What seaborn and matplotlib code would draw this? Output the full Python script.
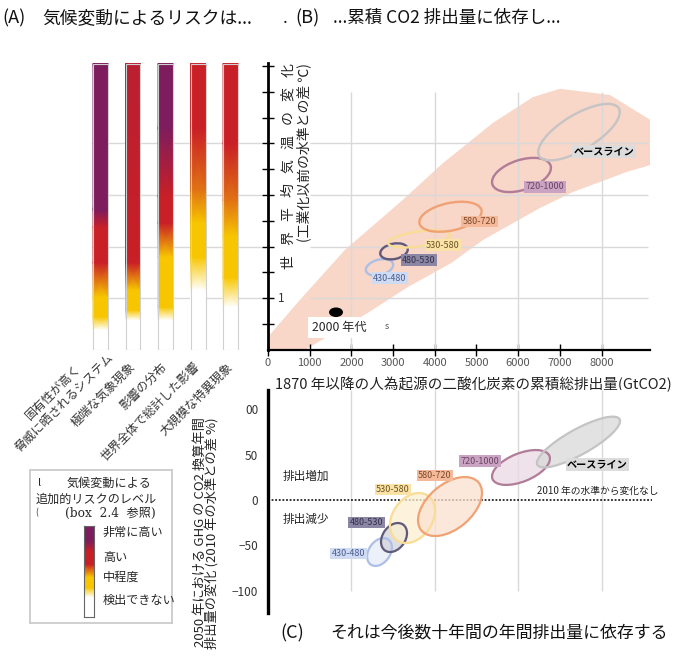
import numpy as np
import matplotlib
matplotlib.use('Agg')
import matplotlib.pyplot as plt
import matplotlib.transforms as mtransforms
from matplotlib.patches import Ellipse, Rectangle
from matplotlib.colors import LinearSegmentedColormap
import seaborn as sns

sns.set_theme(style='white')
plt.rcParams['font.family'] = ['Noto Sans CJK JP', 'DejaVu Sans']

# ---------------- data ----------------
risk_names = ['固有性が高く\n脅威に晒されるシステム', '極端な気象現象', '影響の分布',
              '世界全体で総計した影響', '大規模な特異現象']
# warming (°C) where the risk level changes; level 0=undetectable 1=moderate 2=high 3=very high
risk_temp = [
    [0, 0.39, 0.64, 1.03, 1.69, 2.38, 2.71, 5.55],
    [0, 0.58, 0.77, 1.16, 1.69, 5.55],
    [0, 0.58, 0.83, 1.80, 2.46, 2.97, 4.30, 5.55],
    [0, 1.16, 1.80, 2.46, 3.10, 4.30, 5.55],
    [0, 0.83, 1.40, 2.20, 2.90, 4.00, 5.55],
]
risk_level = [
    [0, 0, 1, 1, 2, 2, 3, 3],
    [0, 0, 1, 1, 2, 2.2],
    [0, 0, 1, 1, 2, 2, 3, 3],
    [0, 0, 1, 1, 1.5, 2, 2],
    [0, 0, 1, 1, 1.5, 2, 2],
]
legend_frac = [0, 0.22, 0.32, 0.44, 0.58, 0.72, 0.84, 1]
legend_level = [0, 0, 1, 1, 2, 2, 3, 3]
level_names = ['非常に高い', '高い', '中程度', '検出できない']

scenarios = ['430-480', '480-530', '530-580', '580-720', '720-1000', 'ベースライン']
# (B) cumulative CO2 (GtCO2) vs warming (°C): centre, half span of long axis, width ratio
b_co2 = [2674, 3022, 3621, 4376, 6079, 7458]
b_temp = [1.60, 1.91, 2.15, 2.58, 3.39, 4.22]
b_co2_span = [324, 328, 743, 744, 698, 954]
b_temp_span = [0.070, 0.056, 0.084, 0.128, 0.183, 0.463]
b_ratio = [0.55, 0.55, 0.24, 0.435, 0.49, 0.38]
# (C) change in annual GHG emissions in 2050 (% vs 2010)
c_co2 = [2674, 3022, 3465, 4365, 6067, 7446]
c_change = [-57.4, -41.4, -19.9, -7.2, 35.9, 64.0]
c_co2_span = [211, 217, 374, 685, 683, 986]
c_change_span = [13.8, 14.3, 24.6, 26.5, 12.7, 25.2]
c_ratio = [0.70, 0.72, 0.73, 0.60, 0.46, 0.27]

obs_co2, obs_temp = 1631, 0.73   # 2000年代

band_co2 = [0, 767, 1847, 3237, 4197, 5396, 6355, 7002, 8201, 9161,
            9161, 8609, 7314, 6523, 5156, 4388, 3357, 2398, 887, 0]
band_temp = [0.25, 0.97, 1.94, 2.91, 3.62, 4.40, 4.90, 5.06, 4.94, 4.46,
             3.58, 3.45, 3.06, 2.75, 2.13, 1.68, 1.22, 0.72, 0.0, 0.0]

co2_ticks = [0, 1000, 2000, 3000, 4000, 5000, 6000, 7000, 8000]
change_ticks = [100, 50, 0, -50, -100]
change_ticklabels = ['00', '50', '0', '−50', '−100']

# ---------------- styles ----------------
edge_c = ['#aebfe6', '#5f5a7a', '#f9dd96', '#f0a274', '#b07c98', '#c4c4c4']
face_c = ['#e6ecf8', '#d2d2da', '#fdf0d2', '#fbe1d0', '#ecd9e4', '#d9d9d9']
tag_bg = ['#cfdaf3', '#8a86a3', '#fbe2a6', '#f5b999', '#c9a3c1', '#dcdcdc']
tag_fg = ['#4b5d8e', '#36324d', '#6b5424', '#7a4a2e', '#6b4566', '#000000']
b_tag_xy = [(2926, 1.39), (3621, 1.74), (4197, 2.03), (5072, 2.49), (6643, 3.16), (8058, 3.85)]
c_tag_xy = [(1930, -59.1), (2362, -24.8), (2998, 11.6), (4005, 27.0), (5084, 43.0), (7902, 39.2)]

risk_cmap = LinearSegmentedColormap.from_list(
    'risk', [(0, '#ffffff'), (1 / 3, '#f7c600'), (2 / 3, '#c91f26'), (1, '#7d1d5d')])
grid_c = '#d9d9d9'

fig = plt.figure(figsize=(6.75, 6.58), dpi=100)
fig.patch.set_facecolor('white')

axA = fig.add_axes([0.1363, 0.46824, 0.2519, 0.43556])
axB = fig.add_axes([0.39704, 0.46824, 0.5714, 0.43556])
axC = fig.add_axes([0.39704, 0.06839, 0.5714, 0.3389])

T_TOP = 5.554
XMAX = 9250


def draw_ellipse(ax, cx, cy, sx, sy, ratio, **kw):
	p0 = ax.transData.transform((cx, cy))
	p1 = ax.transData.transform((cx + sx, cy + sy))
	d = p1 - p0
	a = np.hypot(d[0], d[1])
	ang = np.degrees(np.arctan2(d[1], d[0]))
	tr = fig.dpi_scale_trans + mtransforms.ScaledTranslation(cx, cy, ax.transData)
	ax.add_patch(Ellipse((0, 0), 2 * a / fig.dpi, 2 * a * ratio / fig.dpi,
	                     angle=ang, transform=tr, **kw))


# ---------------- (A) risk bars ----------------
axA.set_xlim(-0.2615, 4.969)
axA.set_ylim(0, T_TOP)
axA.axis('off')
for t in [1, 2, 3, 4]:
	axA.axhline(t, color=grid_c, lw=1, zorder=0)
hw = 0.23
for i, (temps, levels) in enumerate(zip(risk_temp, risk_level)):
	temps = np.asarray(temps)
	X = np.column_stack([np.full(len(temps), i - hw), np.full(len(temps), i + hw)])
	Y = np.column_stack([temps, temps])
	C = np.column_stack([levels, levels])
	axA.pcolormesh(X, Y, C, shading='gouraud', cmap=risk_cmap, vmin=0, vmax=3, zorder=2)
	axA.add_patch(Rectangle((i - hw, 0), 2 * hw, temps[-1], fill=False,
	                        ec='#d0d0d0', lw=0.8, zorder=3))
	if '\n' in risk_names[i]:
		tx, ty = i + 0.17, 0.0
	else:
		tx, ty = i, -0.29
	axA.text(tx, ty, risk_names[i], rotation=45, rotation_mode='anchor', ha='right',
	         va='center', multialignment='center', fontsize=8.7, color='#333333',
	         clip_on=False)

# ---------------- (B) warming vs cumulative CO2 ----------------
axB.set_xlim(0, XMAX)
axB.set_ylim(0, T_TOP)
axB.fill(band_co2, band_temp, color='#f8d6c8', lw=0, zorder=0)
axB.vlines([2000, 4000, 6000, 8000], 0, 5, color=grid_c, lw=1, zorder=1)
axB.hlines([1, 2, 3, 4], 1000, 9110, color=grid_c, lw=1, zorder=1)
for k in range(len(scenarios)):
	draw_ellipse(axB, b_co2[k], b_temp[k], b_co2_span[k], b_temp_span[k], b_ratio[k],
	             fill=False, ec=edge_c[k], lw=1.7, zorder=3)
	bold = 'bold' if k == len(scenarios) - 1 else 'normal'
	axB.text(*b_tag_xy[k], scenarios[k], fontsize=7.3 if bold == 'bold' else 6.5,
	         weight=bold, color=tag_fg[k], ha='center', va='center', zorder=5,
	         bbox=dict(boxstyle='square,pad=0.15', fc=tag_bg[k], ec='none'))
draw_ellipse(axB, obs_co2, obs_temp, 150, 0, 0.65, fc='black', ec='black', zorder=4)
axB.text(1720, 0.43, '2000 年代', fontsize=8.8, ha='center', va='center', zorder=5,
         bbox=dict(boxstyle='square,pad=0.35', fc='white', ec='none'))
axB.text(2854, 0.45, 's', fontsize=6.5, color='#555555', ha='center', va='center')

for s in ['top', 'right']:
	axB.spines[s].set_visible(False)
axB.spines['left'].set_linewidth(2.0)
axB.spines['left'].set_color('black')
axB.spines['bottom'].set_linewidth(1.6)
axB.spines['bottom'].set_color('black')
axB.spines['bottom'].set_bounds(0, 9160)
axB.set_xticks(co2_ticks)
axB.set_xticklabels([str(v) for v in co2_ticks])
axB.set_yticks(np.arange(0.5, 5.51, 0.5))
axB.set_yticklabels([])
axB.tick_params(axis='both', direction='inout', length=8, width=1, color='black',
                bottom=True, left=True)
axB.tick_params(axis='x', labelsize=8, labelcolor='#555555', pad=2)
axB.text(0.035, 1, '1', transform=axB.get_yaxis_transform(), fontsize=8.5,
         color='#333333', ha='center', va='center')
axB.set_xlabel('1870 年以降の人為起源の二酸化炭素の累積総排出量(GtCO2)', fontsize=10.5,
               color='#222222', va='center')
axB.xaxis.set_label_coords(0.533, -0.119)
axB.text(0.0544, 1.0, '世\u2002 界\u2002 平\u2002 均\u2002 気\u2002 温\u2002 の\u2002 変\u2002 化',
         transform=axB.transAxes, rotation=90, ha='center', va='top', fontsize=10,
         color='#222222')
axB.text(0.0933, 1.0, '(工業化以前の水準との差 ℃)', transform=axB.transAxes, rotation=90,
         ha='center', va='top', fontsize=10, color='#222222')

# ---------------- (C) emissions change ----------------
axC.set_xlim(0, XMAX)
axC.set_ylim(-124.7, 121.4)
axC.vlines([2000, 4000, 6000, 8000], -100, 121.4, color=grid_c, lw=1, zorder=0)
axC.hlines(0, 0, 9209, color='#222222', lw=1.3, linestyles=(0, (1, 1)), zorder=2)
for k in range(len(scenarios)):
	draw_ellipse(axC, c_co2[k], c_change[k], c_co2_span[k], c_change_span[k], c_ratio[k],
	             fc=face_c[k], alpha=0.75, ec='none', zorder=3)
	draw_ellipse(axC, c_co2[k], c_change[k], c_co2_span[k], c_change_span[k], c_ratio[k],
	             fill=False, ec=edge_c[k], lw=1.6, zorder=4)
	bold = 'bold' if k == len(scenarios) - 1 else 'normal'
	axC.text(*c_tag_xy[k], scenarios[k], fontsize=7.3 if bold == 'bold' else 6.5,
	         weight=bold, color=tag_fg[k], ha='center', va='center', zorder=5,
	         bbox=dict(boxstyle='square,pad=0.15', fc=tag_bg[k], ec='none'))
axC.text(360, 26.5, '排出増加', fontsize=8.4, color='#222222', va='center')
axC.text(360, -22, '排出減少', fontsize=8.4, color='#222222', va='center')
axC.text(6451, 10.3, '2010 年の水準から変化なし', fontsize=7, color='#222222', va='center')
for s in ['top', 'right', 'bottom']:
	axC.spines[s].set_visible(False)
axC.spines['left'].set_linewidth(2.4)
axC.spines['left'].set_color('black')
axC.set_xticks([])
axC.set_yticks(change_ticks)
axC.set_yticklabels(change_ticklabels)
axC.tick_params(axis='y', length=0, pad=7, labelsize=8.5, labelcolor='#333333')

fig.text(0.296, 0.3663, '2050 年における GHG の CO2 換算年間', rotation=90, ha='center',
         va='top', fontsize=9.5, color='#222222')
fig.text(0.315, 0.3663, '排出量の変化 (2010 年の水準との差 %)', rotation=90, ha='center',
         va='top', fontsize=9.5, color='#222222')

# ---------------- legend box ----------------
axL = fig.add_axes([0.0444, 0.0532, 0.2104, 0.2325])
axL.set_xticks([])
axL.set_yticks([])
for s in axL.spines.values():
	s.set_color('#cccccc')
	s.set_linewidth(1.3)
axL.text(0.556, 0.915, '気候変動による', ha='center', va='center', fontsize=8.7,
         transform=axL.transAxes)
axL.text(0.468, 0.81, '追加的リスクのレベル', ha='center', va='center', fontsize=8.7,
         transform=axL.transAxes)
axL.text(0.563, 0.719, '(box  2.4  参照)', ha='center', va='center', fontsize=8.7,
         family=['DejaVu Serif', 'Noto Sans CJK JP'], transform=axL.transAxes)
axL.text(0.07, 0.915, 'l', ha='center', va='center', fontsize=8, transform=axL.transAxes)
axL.text(0.045, 0.719, '(', ha='center', va='center', fontsize=6, transform=axL.transAxes)
for name, yy in zip(level_names, [0.595, 0.431, 0.30, 0.15]):
	axL.text(0.514, yy, name, ha='left', va='center', fontsize=8.7, transform=axL.transAxes)

axCb = fig.add_axes([0.1244, 0.0623, 0.0148, 0.1383])
lf = np.asarray(legend_frac)
axCb.pcolormesh(np.column_stack([np.zeros_like(lf), np.ones_like(lf)]),
                np.column_stack([lf, lf]),
                np.column_stack([legend_level, legend_level]),
                shading='gouraud', cmap=risk_cmap, vmin=0, vmax=3)
axCb.set_xlim(0, 1)
axCb.set_ylim(0, 1)
axCb.set_xticks([])
axCb.set_yticks([])
for s in axCb.spines.values():
	s.set_color('#666666')
	s.set_linewidth(0.8)

# ---------------- titles ----------------
fig.text(0.003, 0.9726, '(A)', fontsize=13, va='center', color='#111111')
fig.text(0.062, 0.9726, '気候変動によるリスクは...', fontsize=12.8, va='center', color='#111111')
fig.text(0.419, 0.9726, '.', fontsize=12, va='center', color='#111111')
fig.text(0.437, 0.9726, '(B)', fontsize=13, va='center', color='#111111')
fig.text(0.493, 0.9726, '...累積 CO2 排出量に依存し...', fontsize=12.6, va='center', color='#111111')
fig.text(0.415, 0.038, '(C)', fontsize=13, va='center', color='#111111')
fig.text(0.490, 0.038, 'それは今後数十年間の年間排出量に依存する', fontsize=12.2,
         va='center', color='#111111')

fig.savefig('out.png', dpi=100, facecolor='white')
